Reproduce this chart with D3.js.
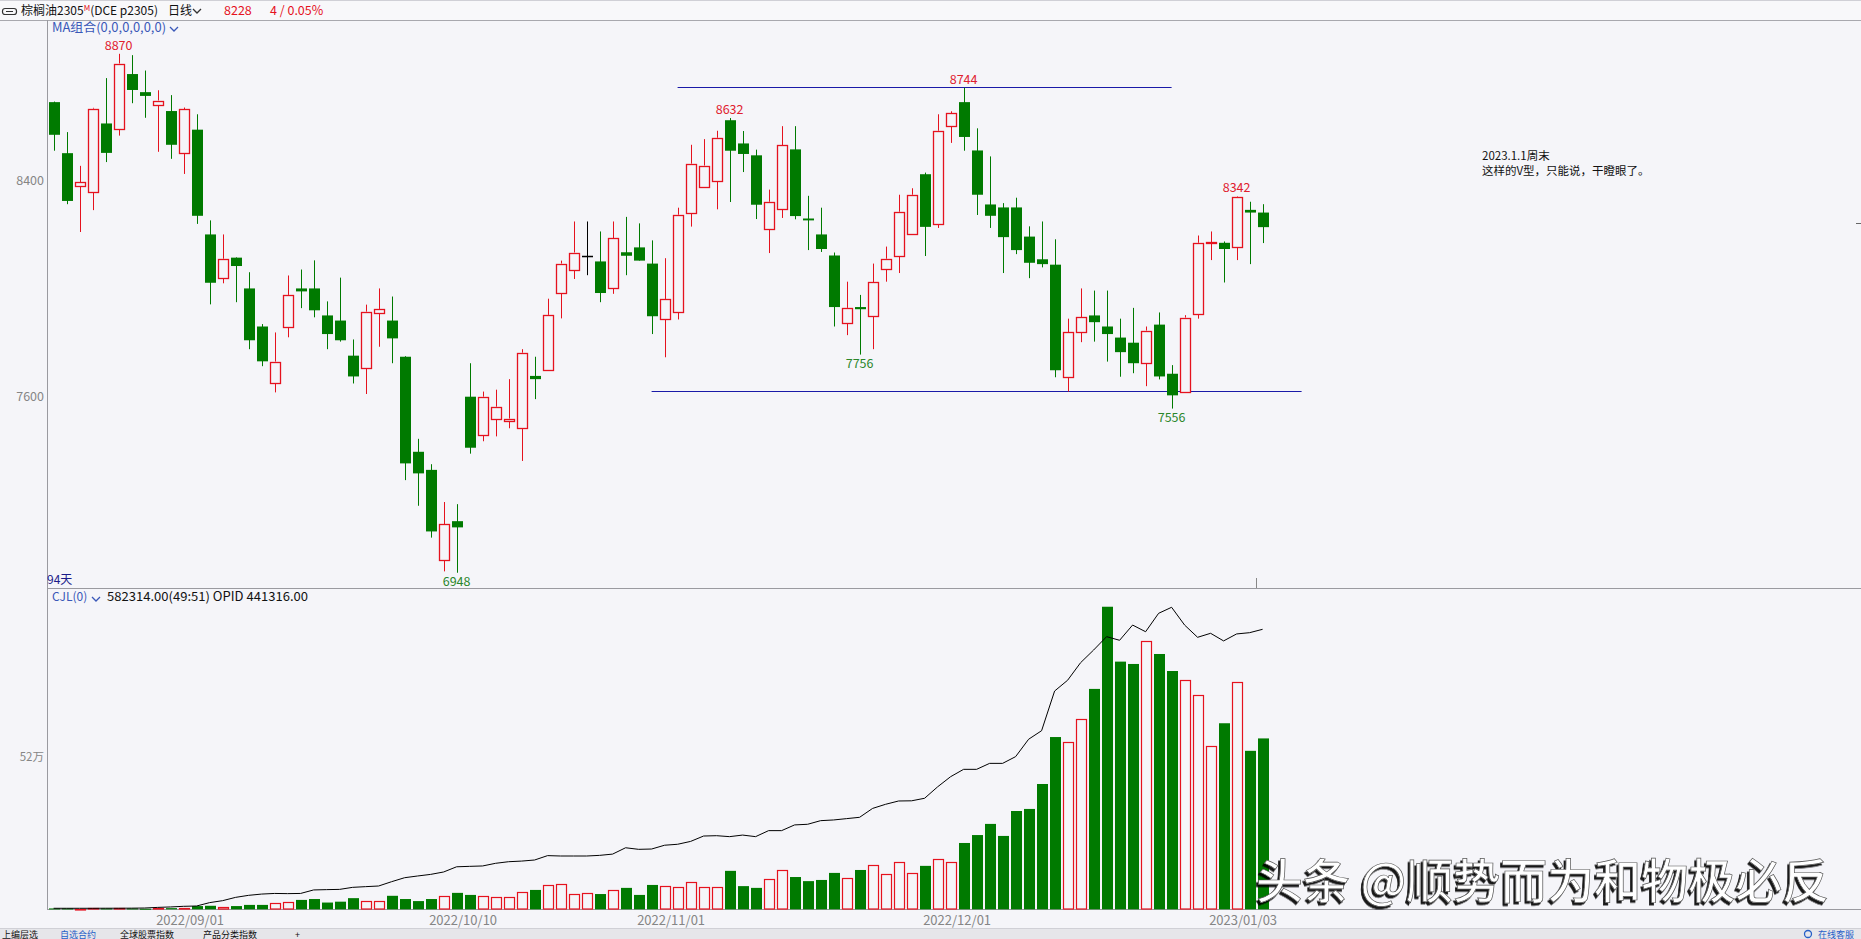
<!DOCTYPE html>
<html><head><meta charset="utf-8">
<script src="https://cdn.jsdelivr.net/npm/d3@7"></script>
<style>
html,body{margin:0;padding:0;background:#F5F5F9;overflow:hidden}
svg{display:block}
text{font-family:"Noto Sans CJK SC","Noto Sans",sans-serif}
</style></head><body>
<svg id="c" width="1861" height="939"></svg>
<script>
// ---------- DATA ----------
const openP  = [8691,8502,8382,8360,8612,8593,8795,8728,8679,8658,8501,8589,8201,8040,8115,8001,7860,7651,7859,8001,8001,7901,7882,7752,7707,7911,7882,7748,7396,7329,6995,7139,7600,7458,7518,7510,7484,7677,7699,7985,8070,8122,8101,8003,8135,8153,8093,7888,7914,8282,8377,8400,8624,8538,8494,8222,8296,8516,8260,8201,8123,7873,7932,7899,8074,8122,8204,8424,8240,8601,8691,8512,8312,8301,8301,8193,8109,8089,7672,7841,7901,7860,7819,7800,7724,7867,7685,7619,7907,8169,8170,8154,8292,8282];
const highP  = [8693,8580,8455,8670,8780,8870,8865,8808,8735,8717,8671,8646,8253,8201,8116,8061,7869,7838,8049,8071,8105,7953,8041,7812,7941,8001,7971,7750,7444,7350,7210,7202,7724,7619,7626,7665,7776,7748,7963,8104,8249,8249,8212,8249,8266,8242,8179,8113,8300,8533,8554,8585,8632,8584,8515,8367,8602,8602,8344,8300,8134,8026,7977,8093,8156,8348,8372,8430,8646,8657,8744,8594,8490,8317,8337,8231,8249,8183,7889,8001,7993,7993,7889,7929,7860,7912,7717,7902,8197,8212,8175,8342,8322,8313];
const lowP   = [8511,8313,8210,8291,8469,8567,8687,8633,8507,8481,8425,8240,7942,8020,7950,7776,7713,7616,7820,7928,7894,7776,7804,7649,7610,7785,7724,7291,7196,7078,6953,6948,7389,7435,7453,7483,7362,7591,7699,7890,8036,8050,7950,7981,8050,8104,7832,7746,7886,8230,8373,8294,8321,8432,8258,8132,8262,8257,8143,8136,7860,7828,7756,7776,8026,8058,8204,8121,8225,8540,8511,8273,8225,8058,8128,8039,8079,7672,7619,7802,7804,7730,7674,7687,7639,7664,7556,7619,7889,8106,8023,8106,8091,8169];
const closeP = [8570,8325,8394,8667,8503,8834,8736,8714,8697,8533,8665,8270,8022,8111,8084,7809,7731,7730,7977,7990,7920,7832,7809,7675,7915,7925,7816,7353,7316,7101,7127,7116,7411,7600,7563,7519,7763,7665,7903,8093,8134,8122,7984,8186,8122,8104,7898,7962,8274,8463,8456,8559,8511,8499,8311,8322,8531,8269,8253,8147,7932,7929,7924,8023,8111,8285,8348,8229,8585,8649,8562,8348,8270,8191,8143,8096,8091,7698,7838,7895,7876,7832,7765,7724,7845,7675,7605,7893,8170,8173,8147,8340,8282,8228];
const volume = [3000,3000,2000,4000,3000,4000,3000,2000,3000,4000,5000,11000,12000,7000,11000,15000,15000,21000,24000,32000,35000,23000,26000,38000,28000,28000,46000,35000,28000,35000,45000,56000,49000,45000,42000,42000,59000,66000,83000,86000,52000,56000,52000,66000,73000,49000,83000,79000,76000,93000,76000,76000,131000,79000,73000,103000,134000,110000,96000,100000,124000,107000,134000,151000,120000,161000,124000,148000,171000,161000,226000,253000,291000,250000,335000,342000,427000,587000,569000,649000,751000,1031000,844000,836000,913000,870000,812000,781000,729000,556000,634000,774000,540000,582314];
const openInterest = [1600,1600,1600,1600,1700,1700,1800,2000,3000,3700,4700,5200,10500,13600,18800,22000,24000,25000,24700,25000,30500,31000,31400,34600,35700,36700,43500,49800,52500,55000,58800,67000,67700,68300,72500,75000,76000,77700,84600,84000,84000,84000,85000,87000,97000,94500,95000,101000,102500,107000,115500,116000,114500,117000,114500,124000,124000,133000,134000,139700,140800,142900,145000,159000,165500,170700,171000,175000,193000,209000,220600,220600,230000,230000,240600,268000,281500,344000,361000,388700,408600,429700,424000,448000,437500,466500,476000,448000,428700,435000,423000,434000,436000,441316];
const dateTickIndex  = [12,33,49,71,93];
const dateTickLabels = ["2022/09/01","2022/10/10","2022/11/01","2022/12/01","2023/01/03"];
const priceTicks = [7600,8400];
const volumeTicks = [520000];
const volumeTickLabels = ["52万"];
const markIndex = [5,31,52,62,70,86,91];
const markSide  = ["high","low","high","low","high","low","high"];
const trendStart = [48,46];
const trendEnd   = [86,96];
const trendLevel = [8748,7622];
const noteLines = ["2023.1.1周末","这样的V型，只能说，干瞪眼了。"];

// ---------- SETUP ----------
const RED="#E5121E", GREEN="#007A00", BG="#F5F5F9", AX="#9A9AA0";
const svg=d3.select("#c");
const n=openP.length;
const x=d3.scaleLinear().domain([0,93]).range([53.6,1262.6]);
const y=d3.scaleLinear().domain([7600,8400]).range([396.7,180.7]);
const yv=d3.scaleLinear().domain([0,520000]).range([909.3,756.7]);
const yo=d3.scaleLinear().domain([0,441316]).range([909.3,629.3]);
const cx=i=>Math.round(x(i));

const defs=svg.append("defs");
const f=defs.append("filter").attr("id","sh").attr("filterUnits","userSpaceOnUse")
  .attr("x",0).attr("y",0).attr("width",1861).attr("height",939);
f.append("feDropShadow").attr("dx",-2).attr("dy",2.5).attr("stdDeviation",0.6).attr("flood-color","#000").attr("flood-opacity",0.9);

svg.append("rect").attr("width",1861).attr("height",939).attr("fill",BG);

// header
svg.append("rect").attr("x",0).attr("y",0).attr("width",1861).attr("height",20).attr("fill","#F8F8FA");
svg.append("line").attr("x1",0).attr("x2",1861).attr("y1",0.5).attr("y2",0.5).attr("stroke","#D0D0D6");
svg.append("line").attr("x1",0).attr("x2",1861).attr("y1",20.5).attr("y2",20.5).attr("stroke","#A8A8AE");
svg.append("rect").attr("x",2.5).attr("y",8.5).attr("width",14).attr("height",6).attr("rx",2.5).attr("fill","none").attr("stroke","#333").attr("stroke-width",1.2);
svg.append("line").attr("x1",6).attr("x2",13).attr("y1",11.5).attr("y2",11.5).attr("stroke","#333");
const hdr=svg.append("text").attr("x",21).attr("y",15).attr("font-size",12).attr("fill","#111");
hdr.append("tspan").text("棕榈油2305");
hdr.append("tspan").attr("fill",RED).attr("font-size",8).attr("dy",-4).text("M");
hdr.append("tspan").attr("dy",4).text("(DCE p2305)");
svg.append("text").attr("x",168).attr("y",15).attr("font-size",12).attr("fill","#111").text("日线");
svg.append("path").attr("d","M193,9 L197,13 L201,9").attr("fill","none").attr("stroke","#333").attr("stroke-width",1.3);
svg.append("text").attr("x",224).attr("y",15).attr("font-size",12.5).attr("fill",RED).text("8228");
svg.append("text").attr("x",270).attr("y",15).attr("font-size",12.5).attr("fill",RED).text("4 / 0.05%");

// MA label
svg.append("text").attr("x",52).attr("y",32).attr("font-size",12.5).attr("textLength",114).attr("lengthAdjust","spacingAndGlyphs")
  .attr("fill","#3A58B8").text("MA组合(0,0,0,0,0,0)");
svg.append("path").attr("d","M170,27 L174,31 L178,27").attr("fill","none").attr("stroke","#3A58B8").attr("stroke-width",1.3);

// axis frame lines
svg.append("line").attr("x1",47.5).attr("x2",47.5).attr("y1",20).attr("y2",909).attr("stroke",AX);
svg.append("line").attr("x1",47).attr("x2",1861).attr("y1",588.5).attr("y2",588.5).attr("stroke",AX);
svg.append("line").attr("x1",47).attr("x2",1861).attr("y1",909.5).attr("y2",909.5).attr("stroke",AX);
svg.append("line").attr("x1",1256.5).attr("x2",1256.5).attr("y1",578).attr("y2",588).attr("stroke","#888");
svg.append("line").attr("x1",1856).attr("x2",1861).attr("y1",223.5).attr("y2",223.5).attr("stroke","#666");

// price axis
const pa=svg.append("g").attr("transform","translate(47,0)")
  .call(d3.axisLeft(y).tickValues(priceTicks).tickSize(0).tickPadding(3).tickFormat(d3.format("d")));
pa.select(".domain").remove();
pa.selectAll("text").attr("font-family","'Liberation Sans',Arial,sans-serif").attr("font-size",12.5).attr("fill","#858585");

// volume axis
const va=svg.append("g").attr("transform","translate(47,0)")
  .call(d3.axisLeft(yv).tickValues(volumeTicks).tickSize(0).tickPadding(3).tickFormat((d,k)=>volumeTickLabels[k]));
va.select(".domain").remove();
va.selectAll("text").attr("font-family","'Noto Sans CJK SC',sans-serif").attr("font-size",11.5).attr("fill","#858585");

// date axis
const da=svg.append("g").attr("transform","translate(0,909)")
  .call(d3.axisBottom(x).tickValues(dateTickIndex).tickSize(0).tickPadding(6.5).tickFormat((d,k)=>dateTickLabels[k]));
da.select(".domain").remove();
da.selectAll("text").attr("dx",-20).attr("font-family","'Liberation Sans',Arial,sans-serif").attr("font-size",13).attr("fill","#858585");

// 94天 and panel texts
svg.append("text").attr("x",47).attr("y",584).attr("font-size",12).attr("fill","#1C1C8A").text(n+"天");
svg.append("text").attr("x",52).attr("y",601).attr("font-size",12).attr("fill","#3A58B8").text("CJL(0)");
svg.append("path").attr("d","M92,597 L96,601 L100,597").attr("fill","none").attr("stroke","#3A58B8").attr("stroke-width",1.3);
svg.append("text").attr("x",107).attr("y",601).attr("font-size",12.5).attr("textLength",201).attr("lengthAdjust","spacingAndGlyphs")
  .attr("fill","#111").text("582314.00(49:51)  OPID 441316.00");

// trend lines
trendLevel.forEach((lv,k)=>{
  svg.append("line").attr("x1",x(trendStart[k])).attr("x2",x(trendEnd[k]))
    .attr("y1",Math.round(y(lv))+0.5).attr("y2",Math.round(y(lv))+0.5)
    .attr("stroke","#1A1AA8").attr("stroke-width",1.2);
});

// candles
const colorOf=i=> closeP[i]>openP[i]?RED:(closeP[i]<openP[i]?GREEN:"#000");
const cg=svg.append("g");
d3.range(n).forEach(i=>{
  const c=cx(i), col=colorOf(i);
  const top=y(Math.max(openP[i],closeP[i])), bot=y(Math.min(openP[i],closeP[i]));
  if(closeP[i]>openP[i]){
    cg.append("line").attr("x1",c+0.5).attr("x2",c+0.5).attr("y1",y(highP[i])).attr("y2",top).attr("stroke",col);
    cg.append("line").attr("x1",c+0.5).attr("x2",c+0.5).attr("y1",bot).attr("y2",y(lowP[i])).attr("stroke",col);
    cg.append("rect").attr("x",c-4.5).attr("y",Math.round(top)+0.5).attr("width",10)
      .attr("height",Math.max(1,Math.round(bot)-Math.round(top))).attr("fill",BG).attr("stroke",col).attr("stroke-width",1.3);
  } else {
    cg.append("line").attr("x1",c+0.5).attr("x2",c+0.5).attr("y1",y(highP[i])).attr("y2",y(lowP[i])).attr("stroke",col);
    cg.append("rect").attr("x",c-5).attr("y",top).attr("width",11).attr("height",Math.max(1.5,bot-top)).attr("fill",col);
  }
});

// extreme labels
markIndex.forEach((i,k)=>{
  const hi=markSide[k]==="high";
  svg.append("text").attr("x",x(i)).attr("y",hi?y(highP[i])-4:y(lowP[i])+13)
    .attr("text-anchor","middle").attr("font-family","'Liberation Sans',Arial,sans-serif").attr("font-size",12.5)
    .attr("fill",hi?"#E0202E":"#2A862A").text(hi?highP[i]:lowP[i]);
});

// note
noteLines.forEach((t,k)=>{
  svg.append("text").attr("x",1482).attr("y",160+k*15).attr("font-size",11.5).attr("fill","#111").text(t);
});

// volume bars
const vg=svg.append("g");
d3.range(n).forEach(i=>{
  const c=cx(i), up=closeP[i]>=openP[i];
  const t=yv(volume[i]);
  if(up){
    vg.append("rect").attr("x",c-4.5).attr("y",Math.round(t)+0.5).attr("width",10)
      .attr("height",Math.max(0.5,909-Math.round(t)-0.5)).attr("fill",BG).attr("stroke",RED).attr("stroke-width",1.2);
  } else {
    vg.append("rect").attr("x",c-5).attr("y",t).attr("width",11).attr("height",Math.max(1,909.3-t)).attr("fill",GREEN);
  }
});

// open interest line
svg.append("path").datum(openInterest)
  .attr("d",d3.line().x((d,i)=>x(i)).y(d=>yo(d)))
  .attr("fill","none").attr("stroke","#000").attr("stroke-width",1);

// bottom bar
svg.append("rect").attr("x",0).attr("y",928).attr("width",1861).attr("height",11).attr("fill","#E6E6EA");
svg.append("line").attr("x1",0).attr("x2",1861).attr("y1",928.5).attr("y2",928.5).attr("stroke","#D0D0D6");
const bb=[["上编层选",2,"#111"],["自选合约",60,"#2660C8"],["全球股票指数",120,"#111"],["产品分类指数",203,"#111"],["+",295,"#111"],["在线客服",1818,"#2660C8"]];
bb.forEach(b=>svg.append("text").attr("x",b[1]).attr("y",937.5).attr("font-size",9).attr("fill",b[2]).text(b[0]));
svg.append("circle").attr("cx",1808).attr("cy",934).attr("r",3.5).attr("fill","none").attr("stroke","#2660C8").attr("stroke-width",1.3);

// watermark (single text with drop shadow)
svg.append("text").attr("x",1256).attr("y",898).attr("font-size",47).attr("font-weight",500)
  .attr("fill","#FFFFFF").attr("stroke","#555").attr("stroke-width",0.7).attr("filter","url(#sh)")
  .text("头条 @顺势而为和物极必反");
</script>
</body></html>
